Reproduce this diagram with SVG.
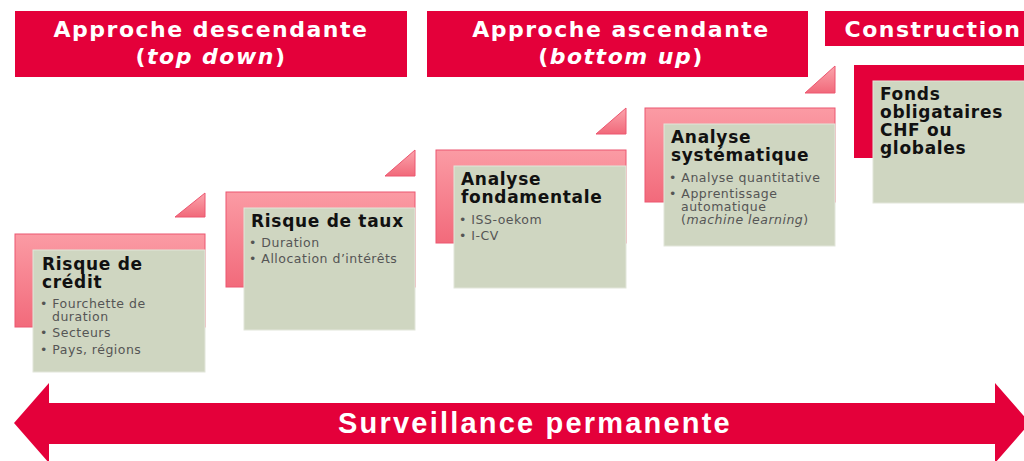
<svg xmlns="http://www.w3.org/2000/svg" width="1024" height="461" viewBox="0 0 1024 461">
<style>
.hdr{fill:#e4003a}
.hdt{fill:#fff;font-family:"DejaVu Sans","Liberation Sans",sans-serif;font-weight:bold;font-size:22px;letter-spacing:1.5px;text-anchor:middle}
.pink{fill:url(#pg);stroke:#ec5670;stroke-width:1}
.tri{fill:url(#tg);stroke:#ec5670;stroke-width:1}
.green{fill:#cfd6c1;stroke:#e2e6da;stroke-width:1}
.ttl{fill:#111;font-family:"DejaVu Sans","Liberation Sans",sans-serif;font-weight:bold;font-size:17px;letter-spacing:0.7px}
.bul{fill:#555;font-family:"DejaVu Sans","Liberation Sans",sans-serif;font-size:12.5px;letter-spacing:0.5px}
.arrtxt{fill:#fff;font-family:"Liberation Sans",Arial,sans-serif;font-weight:bold;font-size:29px;letter-spacing:2.2px;text-anchor:middle}
</style>
<defs>
<linearGradient id="pg" x1="0" y1="0" x2="0" y2="1">
<stop offset="0" stop-color="#fb9ba4"/>
<stop offset="1" stop-color="#f26a7b"/>
</linearGradient>
<linearGradient id="tg" x1="0" y1="0" x2="0" y2="1">
<stop offset="0" stop-color="#fba5ad"/>
<stop offset="1" stop-color="#f1697a"/>
</linearGradient>
</defs>
<rect width="1024" height="461" fill="#fff"/>

<g id="header-topdown">
<rect class="hdr" x="15" y="11" width="392" height="66"/>
<text class="hdt" x="211" y="37">Approche descendante</text>
<text class="hdt" x="211" y="64">(<tspan font-style="italic">top down</tspan>)</text>
</g>
<g id="header-bottomup">
<rect class="hdr" x="427" y="11" width="381" height="66"/>
<text class="hdt" x="621" y="37">Approche ascendante</text>
<text class="hdt" x="621" y="64">(<tspan font-style="italic">bottom up</tspan>)</text>
</g>
<g id="header-construction">
<rect class="hdr" x="825" y="11" width="199" height="35"/>
<text class="hdt" x="933" y="37">Construction</text>
</g>

<g id="step-credit">
<polygon class="tri" points="175,217 205,217 205,193"/>
<rect class="pink" x="15" y="234" width="190" height="93"/>
<rect class="green" x="33" y="250" width="172" height="122"/>
<text class="ttl" x="42" y="270">Risque de</text>
<text class="ttl" x="42" y="288">crédit</text>
<text class="bul" x="40" y="308">• Fourchette de</text>
<text class="bul" x="52" y="321">duration</text>
<text class="bul" x="40" y="337">• Secteurs</text>
<text class="bul" x="40" y="354">• Pays, régions</text>
</g>

<g id="step-taux">
<polygon class="tri" points="385,176 415,176 415,150"/>
<rect class="pink" x="226" y="192" width="189" height="95"/>
<rect class="green" x="244" y="208" width="171" height="122"/>
<text class="ttl" x="251" y="227">Risque de taux</text>
<text class="bul" x="249" y="247">• Duration</text>
<text class="bul" x="249" y="263">• Allocation d’intérêts</text>
</g>

<g id="step-fondamentale">
<polygon class="tri" points="596,134 626,134 626,108"/>
<rect class="pink" x="436" y="150" width="190" height="93"/>
<rect class="green" x="454" y="166" width="172" height="122"/>
<text class="ttl" x="461" y="185">Analyse</text>
<text class="ttl" x="461" y="203">fondamentale</text>
<text class="bul" x="459" y="224">• ISS-oekom</text>
<text class="bul" x="459" y="240">• I-CV</text>
</g>

<g id="step-systematique">
<polygon class="tri" points="805,93 835,93 835,66"/>
<rect class="pink" x="645" y="108" width="190" height="94"/>
<rect class="green" x="664" y="124" width="171" height="122"/>
<text class="ttl" x="671" y="143">Analyse</text>
<text class="ttl" x="671" y="161">systématique</text>
<text class="bul" x="669" y="182">• Analyse quantitative</text>
<text class="bul" x="669" y="198">• Apprentissage</text>
<text class="bul" x="681" y="211">automatique</text>
<text class="bul" x="681" y="224">(<tspan font-style="italic">machine learning</tspan>)</text>
</g>

<g id="step-fonds">
<rect class="hdr" x="854" y="65" width="170" height="93"/>
<rect class="green" x="873" y="81" width="152" height="122"/>
<text class="ttl" x="880" y="100">Fonds</text>
<text class="ttl" x="880" y="118">obligataires</text>
<text class="ttl" x="880" y="136">CHF ou</text>
<text class="ttl" x="880" y="154">globales</text>
</g>

<g id="connectors">
<polygon class="hdr" points="14,423 49,383 49,403 995,403 995,383 1030,423 995,463 995,444 49,444 49,463"/>
<text class="arrtxt" x="535" y="433">Surveillance permanente</text>
</g>
</svg>
